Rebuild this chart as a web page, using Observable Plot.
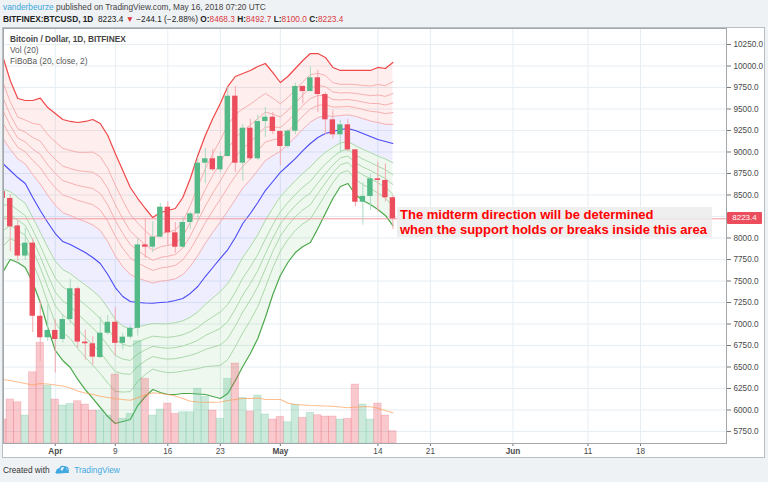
<!DOCTYPE html>
<html><head><meta charset="utf-8">
<script src="https://cdn.jsdelivr.net/npm/d3@7"></script>
<script src="https://cdn.jsdelivr.net/npm/@observablehq/plot@0.6"></script>
<style>
html,body{margin:0;padding:0}
body{width:768px;height:482px;background:#eff2f5;font-family:"Liberation Sans",Arial,sans-serif;position:relative;overflow:hidden;color:#333}
#h1{position:absolute;left:3px;top:2px;font-size:8.3px;color:#444;white-space:nowrap}
#h1 .u{color:#3aa6dc}
#h2{position:absolute;left:3px;top:14px;font-size:8.3px;color:#222;white-space:nowrap}
#h2 .r{color:#d9393f}
#panel{position:absolute;left:2px;top:27px;width:761px;height:429px;border:1px solid #b9bec3;background:#fff}
.layer{position:absolute;left:0;top:28px}
#legend{position:absolute;left:10px;top:34px;font-size:8.3px;color:#555;line-height:11px}
#legend b{color:#444}
#plabel{position:absolute;left:727px;width:35px;height:12px;background:#eb4d5c;color:#fff;font-size:8px;line-height:12px;text-align:center;border-radius:1px}
#note{position:absolute;left:397px;top:207px;width:315px;height:30px;background:rgba(236,236,236,0.85);color:#ff0000;font-weight:bold;font-size:13px;line-height:15px;padding-left:3px;box-sizing:border-box;white-space:nowrap}
#foot{position:absolute;left:3px;top:464px;font-size:8.3px;color:#333;white-space:nowrap;display:flex;align-items:center}
#foot .tv{color:#3fa9e0;margin-left:4px}
</style></head><body>
<div id="h1"><span class="u">vanderbeurze</span> published on TradingView.com, May 16, 2018 07:20 UTC</div>
<div id="h2"></div>
<div id="panel"></div>
<div id="layerA" class="layer"></div>
<div id="layerB" class="layer"></div>
<div id="layerC" class="layer"></div>
<div id="legend"><b>Bitcoin / Dollar, 1D, BITFINEX</b><br>Vol (20)<br>FiBoBa (20, close, 2)</div>
<div id="plabel"></div>
<div id="note">The midterm direction will be determined<br>when the support holds or breaks inside this area</div>
<div id="foot">Created with&nbsp;&nbsp;<svg width="16" height="11" viewBox="0 0 16 11"><path d="M1 9 L5 4 L8 7 L11 2 L15 9 Z" fill="#3fa9e0"/><path d="M3 9 Q2 5 6 5 Q7 1 11 3 Q15 3 14 8 Z" fill="none" stroke="#3fa9e0" stroke-width="1.4"/></svg><span class="tv">TradingView</span></div>
<script>
// ---------- data ----------
const dates = ["2018-03-25","2018-03-26","2018-03-27","2018-03-28","2018-03-29","2018-03-30","2018-03-31",
"2018-04-01","2018-04-02","2018-04-03","2018-04-04","2018-04-05","2018-04-06","2018-04-07","2018-04-08","2018-04-09","2018-04-10",
"2018-04-11","2018-04-12","2018-04-13","2018-04-14","2018-04-15","2018-04-16","2018-04-17","2018-04-18","2018-04-19","2018-04-20",
"2018-04-21","2018-04-22","2018-04-23","2018-04-24","2018-04-25","2018-04-26","2018-04-27","2018-04-28","2018-04-29","2018-04-30",
"2018-05-01","2018-05-02","2018-05-03","2018-05-04","2018-05-05","2018-05-06","2018-05-07","2018-05-08","2018-05-09","2018-05-10",
"2018-05-11","2018-05-12","2018-05-13","2018-05-14","2018-05-15","2018-05-16"];
const open = [8540,8460,8140,7790,7940,7090,6840,
6925,6820,7052,7410,6790,6770,6610,6893,7020,6775,
6847,6950,7920,7893,8010,8358,8060,7893,8180,8281,
8870,8921,8793,8948,9649,8870,9277,8921,9354,9405,
9238,9064,9242,9762,9703,9863,9668,9374,9200,9316,
9025,8416,8483,8688,8669,8468.3];
const high = [8680,8510,8200,8110,7990,7270,7220,
7050,7110,7520,7430,6930,6850,7080,7100,7190,6890,
6980,8000,8230,8190,8400,8420,8180,8240,8300,8930,
9040,9030,9000,9750,9760,9320,9380,9430,9520,9460,
9250,9260,9800,9770,9990,9950,9690,9480,9370,9380,
9030,8640,8740,8880,8860,8492.7];
const low = [8360,7840,7730,7740,6900,6560,6800,
6430,6780,7000,6720,6580,6520,6600,6870,6630,6700,
6820,6860,7760,7830,8000,7900,7820,7880,8100,8200,
8630,8770,8760,8940,8760,8660,8900,8900,9170,9200,
8840,9040,9200,9560,9700,9460,9200,9150,8980,9000,
8360,8150,8320,8300,8420,8100.0];
const close = [8460,8130,7790,7940,7090,6840,6925,
6820,7052,7410,6790,6770,6615,6893,7020,6775,6847,
6950,7920,7893,8010,8358,8060,7893,8180,8281,8870,
8921,8793,8948,9649,8870,9277,8921,9354,9405,9238,
9064,9242,9762,9703,9863,9668,9374,9200,9316,9025,
8416,8483,8688,8669,8467.5,8223.4];
const volume = [12000,22000,20650,14000,35650,50350,29000,
22000,19000,19850,21150,19500,16500,16500,14000,34500,12350,
14850,51150,32350,14000,17000,20000,14850,15650,15650,27350,
23350,16500,12350,32350,40000,22850,16000,24000,14500,12000,
13350,10650,19350,12850,15350,14150,13500,13500,12000,12350,
29500,19500,12000,20000,14000,6150];
const volumeMA20 = [32000,31500,30750,30000,29250,30000,29750,
29250,28750,27750,26250,25250,24500,23650,23000,22350,22000,
21650,22850,24250,25350,25000,24500,23750,22500,21150,20750,
20650,20650,20750,21500,22000,22500,22500,22750,22000,22000,
22000,20250,19500,19250,19000,18900,18750,18650,18250,17850,
18250,18350,18350,17650,16500,15350];
// FiBoBa (20, close, 2): basis line, outermost upper band, outermost lower band
const basis = [8866,8785,8703,8634,8471,8320,8180,
8052,7959,7924,7878,7831,7773,7703,7576,7424,7320,
7262,7250,7244,7242,7250,7256,7273,7297,7355,7436,
7552,7657,7762,7866,8006,8169,8285,8413,8552,8657,
8762,8843,8924,9017,9099,9169,9215,9238,9262,9273,
9250,9215,9180,9145,9122,9099];
const upperBand = [10110,9831,9622,9599,9599,9626,9517,
9448,9378,9355,9343,9355,9378,9331,9192,8983,8785,
8587,8459,8343,8238,8297,8320,8343,8471,8692,8959,
9192,9390,9564,9762,9878,9913,9948,9994,10029,9924,
9808,9878,9971,10064,10145,10145,10099,9983,9948,9948,
9948,9948,9948,9983,9971,10041];
const lowerBand = [7599,7750,7715,7657,7483,7250,6959,
6692,6576,6494,6355,6238,6134,6029,5924,5843,5866,
5890,6052,6157,6238,6203,6180,6180,6192,6192,6186,
6180,6157,6134,6192,6343,6506,6657,6831,7076,7343,
7564,7715,7831,7901,7948,8110,8285,8459,8599,8634,
8506,8436,8390,8331,8262,8145];
const fibLevels = [0.236, 0.382, 0.5, 0.618, 0.764, 1];
const priceTicks = [5750,6000,6250,6500,6750,7000,7250,7500,7750,8000,8250,8500,8750,9000,9250,9500,9750,10000,10250];
const timeTicks = ["2018-04-01","2018-04-09","2018-04-16","2018-04-23","2018-05-01","2018-05-14","2018-05-21","2018-06-01","2018-06-11","2018-06-18"];
const timeTickLabels = ["Apr","9","16","23","May","14","21","Jun","11","18"];
const monthTicks = ["Apr","May","Jun"];

// ---------- tables ----------
const DAY = 864e5;
const parse = s => new Date(s + "T00:00:00Z");
const rows = dates.map((d, i) => ({
  date: parse(d), open: open[i], high: high[i], low: low[i], close: close[i],
  volume: volume[i], volMA: volumeMA20[i], basis: basis[i], upper: upperBand[i], lower: lowerBand[i],
  up: close[i] >= open[i]
}));
const fibUp = (r, f) => r.basis + f * (r.upper - r.basis);
const fibDn = (r, f) => r.basis - f * (r.basis - r.lower);
const tickDates = timeTicks.map(parse);
const tickLabel = new Map(tickDates.map((d, i) => [+d, timeTickLabels[i]]));
const monthDates = tickDates.filter((d, i) => monthTicks.includes(timeTickLabels[i]));
const dayDates = tickDates.filter((d, i) => !monthTicks.includes(timeTickLabels[i]));
const last = rows[rows.length - 1];
// the last-price label hides the axis label it would cover
const labelTicks = priceTicks.filter(p => Math.abs(p - last.close) > 100);

const W = 768, H = 430;
const common = {
  width: W, height: H, marginLeft: 3, marginRight: 42, marginTop: 0, marginBottom: 15,
  x: {type: "utc", domain: [new Date(Date.UTC(2018,2,25,2,24)), new Date(Date.UTC(2018,5,29,11,12))]},
  style: {background: "transparent", fontFamily: "Liberation Sans, Arial, sans-serif", fontSize: "8.2px", color: "#4a4a4a", overflow: "visible"}
};
const priceY = {domain: [5610.5, 10436]};
const GREEN = "#53b987", RED = "#eb4d5c";

// Layer A: grid, FiBoBa bands, axes
const bandMarks = [];
bandMarks.push(Plot.areaY(rows, {x: "date", y1: r => fibUp(r, fibLevels[0]), y2: "upper", fill: "#ff2020", fillOpacity: 0.075, clip: true}));
bandMarks.push(Plot.areaY(rows, {x: "date", y1: r => fibDn(r, fibLevels[0]), y2: r => fibUp(r, fibLevels[0]), fill: "#2020ff", fillOpacity: 0.075, clip: true}));
bandMarks.push(Plot.areaY(rows, {x: "date", y1: "lower", y2: r => fibDn(r, fibLevels[0]), fill: "#10a010", fillOpacity: 0.07, clip: true}));
fibLevels.forEach((f, k) => {
  const outer = k === fibLevels.length - 1;
  bandMarks.push(Plot.lineY(rows, {x: "date", y: r => fibUp(r, f), stroke: outer ? "#f04848" : "#f7b0b0", strokeWidth: outer ? 1.2 : 1, clip: true}));
  bandMarks.push(Plot.lineY(rows, {x: "date", y: r => fibDn(r, f), stroke: outer ? "#4aa84a" : "#acd8ac", strokeWidth: outer ? 1.2 : 1, clip: true}));
});
bandMarks.push(Plot.lineY(rows, {x: "date", y: "basis", stroke: "#4a4af5", strokeWidth: 1.1, clip: true}));

const chartA = Plot.plot({
  ...common, y: priceY,
  marks: [
    Plot.gridY(priceTicks, {stroke: "#e6eef3", strokeOpacity: 1}),
    Plot.gridX(tickDates, {stroke: "#e6eef3", strokeOpacity: 1}),
    ...bandMarks,
    Plot.axisY(labelTicks, {anchor: "right", tickSize: 4, tickPadding: 3, tickFormat: d => d.toFixed(1), stroke: "#777", label: null}),
    Plot.axisX(dayDates, {anchor: "bottom", tickSize: 3, tickPadding: 2, tickFormat: d => tickLabel.get(+d), stroke: "#777", label: null}),
    Plot.axisX(monthDates, {anchor: "bottom", tickSize: 3, tickPadding: 2, tickFormat: d => tickLabel.get(+d), stroke: "#777", fontWeight: "bold", label: null})
  ]
});
document.getElementById("layerA").append(chartA);

// Layer B: volume and its 20-day average
const chartB = Plot.plot({
  ...common, y: {domain: [0, 207500], axis: null}, x: {...common.x, axis: null},
  marks: [
    Plot.rectY(rows, {x1: r => new Date(+r.date - DAY/2), x2: r => new Date(+r.date + DAY/2), y: "volume",
      fill: r => r.up ? GREEN : RED, fillOpacity: 0.3, stroke: r => r.up ? GREEN : RED, strokeOpacity: 0.22, strokeWidth: 0.8, clip: true}),
    Plot.lineY(rows, {x: "date", y: "volMA", stroke: "#ff9a50", strokeOpacity: 0.65, strokeWidth: 1.1, clip: true})
  ]
});
document.getElementById("layerB").append(chartB);

// Layer C: candles, last-price line, frame
const chartC = Plot.plot({
  ...common, y: {...priceY, axis: null}, x: {...common.x, axis: null},
  marks: [
    Plot.ruleY([last.close], {stroke: "#f29aa2", strokeWidth: 1}),
    Plot.ruleX(rows, {x: "date", y1: "low", y2: "high", stroke: r => r.up ? "#a9dbc2" : "#f4a9b0", strokeWidth: 1, clip: true}),
    Plot.rect(rows, {x1: r => new Date(+r.date - DAY*0.36), x2: r => new Date(+r.date + DAY*0.36), y1: "open", y2: "close",
      fill: r => r.up ? GREEN : RED, clip: true}),
    Plot.frame({stroke: "#a3a8ad"})
  ]
});
document.getElementById("layerC").append(chartC);

// last price label on the axis
const yLast = chartC.scale("y").apply(last.close) + 28;
const pl = document.getElementById("plabel");
pl.textContent = last.close.toFixed(1);
pl.style.top = (yLast - 6) + "px";

// header line 2 from the data
const prev = rows[rows.length - 2].close;
const chg = last.close - prev;
const minus = v => (v < 0 ? "\u2212" : "") + Math.abs(v).toFixed(1);
document.getElementById("h2").innerHTML =
  `<b>BITFINEX:BTCUSD, 1D</b>&nbsp; ${last.close.toFixed(1)} <span class="r">\u25BC</span> ${minus(chg)} (${chg < 0 ? "\u2212" : ""}${Math.abs(chg / prev * 100).toFixed(2)}%) ` +
  `<b>O:</b><span class="r">${last.open.toFixed(1)}</span> <b>H:</b><span class="r">${last.high.toFixed(1)}</span> ` +
  `<b>L:</b><span class="r">${last.low.toFixed(1)}</span> <b>C:</b><span class="r">${last.close.toFixed(1)}</span>`;
</script>
</body></html>
